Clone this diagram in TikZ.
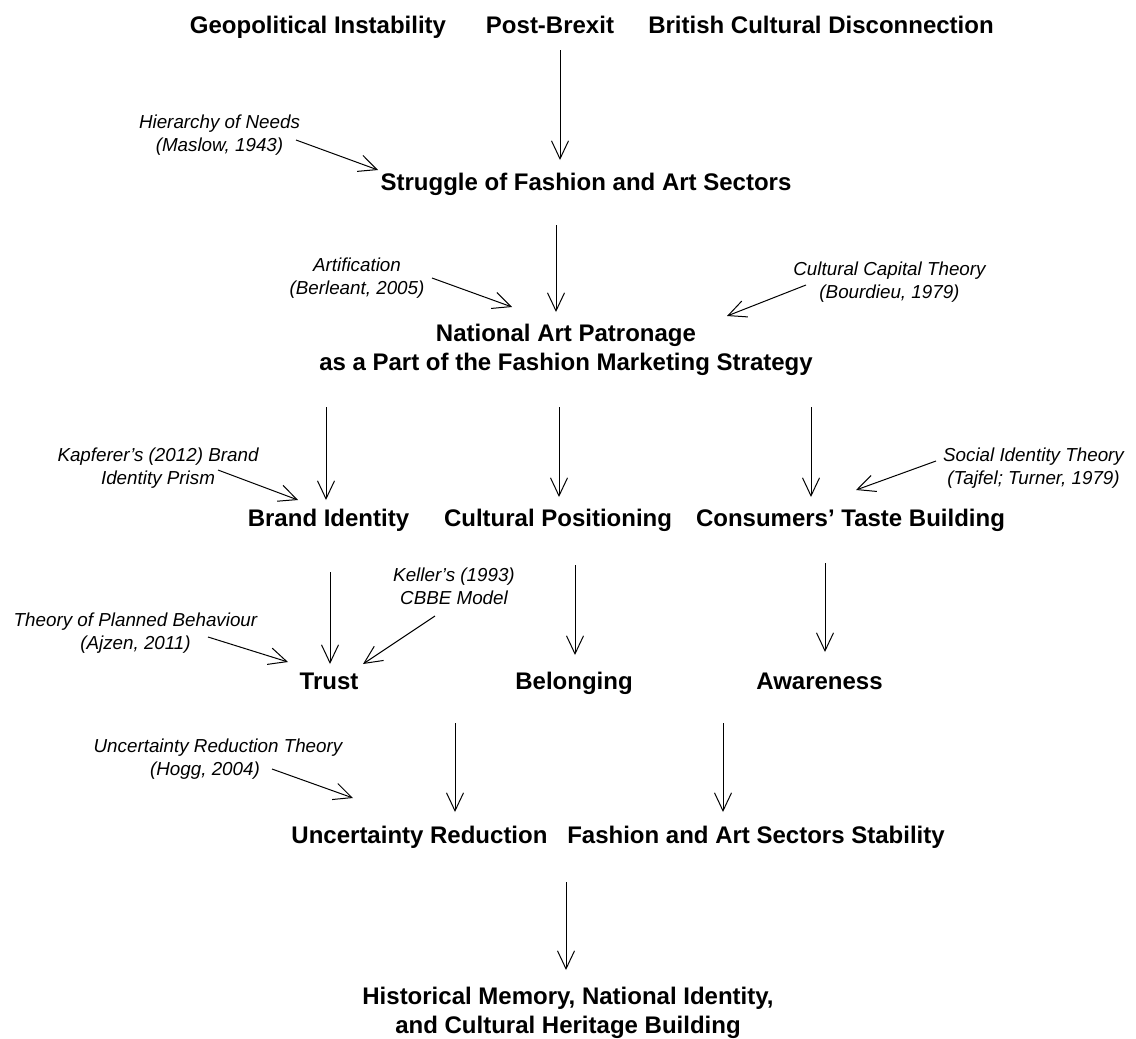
\documentclass[tikz,border=0pt]{standalone}
\usepackage{fontspec}
\setmainfont{Liberation Sans}
\usetikzlibrary{arrows.meta}
\begin{document}
\begin{tikzpicture}[x=1pt,y=-1pt,
  concept/.style={inner sep=0pt,anchor=base,font=\fontsize{24}{29}\selectfont\bfseries},
  concepttwo/.style={inner sep=0pt,align=center,font=\fontsize{24}{29}\selectfont\bfseries},
  theory/.style={inner sep=0pt,align=center,font=\fontsize{18.8}{23}\selectfont\itshape},
  flow/.style={line width=1pt,-{Straight Barb[length=18pt,width=17pt,line width=1pt]}}]
\useasboundingbox[fill=white] (0,0) rectangle (1136,1039);

% concepts (single lines placed on their baselines)
\node[concept] (geo) at (318,33.5) {Geopolitical Instability};
\node[concept] (brexit) at (550,33.5) {Post-Brexit};
\node[concept] (brit) at (821,33.5) {British Cultural Disconnection};
\node[concept] (struggle) at (586,190.5) {Struggle of Fashion and Art Sectors};
\node[concepttwo] (patron) at (566,350) {National Art Patronage\\as a Part of the Fashion Marketing Strategy};
\node[concept] (brand) at (328.5,526.5) {Brand Identity};
\node[concept] (cultpos) at (558,526.5) {Cultural Positioning};
\node[concept] (taste) at (850.5,526.5) {Consumers’ Taste Building};
\node[concept] (trust) at (329,689.5) {Trust};
\node[concept] (belong) at (574,689.5) {Belonging};
\node[concept] (aware) at (819.5,689.5) {Awareness};
\node[concept] (uncert) at (419.5,843.5) {Uncertainty Reduction};
\node[concept] (stab) at (756,843.5) {Fashion and Art Sectors Stability};
\node[concepttwo] (hist) at (568,1012.5) {Historical Memory, National Identity,\\and Cultural Heritage Building};

% theories
\node[theory] (maslow) at (219.5,135) {Hierarchy of Needs\\(Maslow, 1943)};
\node[theory] (berleant) at (357,278) {Artification\\(Berleant, 2005)};
\node[theory] (bourdieu) at (889.5,282) {Cultural Capital Theory\\(Bourdieu, 1979)};
\node[theory] (kapferer) at (158,468) {Kapferer’s (2012) Brand\\Identity Prism};
\node[theory] (tajfel) at (1033.5,468) {Social Identity Theory\\(Tajfel; Turner, 1979)};
\node[theory] (keller) at (454,586) {Keller’s (1993)\\CBBE Model};
\node[theory] (ajzen) at (135.5,633) {Theory of Planned Behaviour\\(Ajzen, 2011)};
\node[theory] (hogg) at (218,759) {Uncertainty Reduction Theory\\(Hogg, 2004)\hspace*{26pt}};

% arrow end points
\coordinate (a1s) at (560,50);   \coordinate (a1e) at (560,160);
\coordinate (a2s) at (556,225);  \coordinate (a2e) at (556,312);
\coordinate (a3s) at (326,407);  \coordinate (a3e) at (326,500);
\coordinate (a4s) at (559,407);  \coordinate (a4e) at (559,497);
\coordinate (a5s) at (811,407);  \coordinate (a5e) at (811,497);
\coordinate (a6s) at (330,572);  \coordinate (a6e) at (330,664);
\coordinate (a7s) at (575,565);  \coordinate (a7e) at (575,655);
\coordinate (a8s) at (825,563);  \coordinate (a8e) at (825,652);
\coordinate (a9s) at (455,723);  \coordinate (a9e) at (455,812);
\coordinate (a10s) at (723,723); \coordinate (a10e) at (723,812);
\coordinate (a11s) at (566,882); \coordinate (a11e) at (566,970);

\coordinate (t1s) at (296,140);  \coordinate (t1e) at (378,170);
\coordinate (t2s) at (432,278);  \coordinate (t2e) at (512,307);
\coordinate (t3s) at (806,285);  \coordinate (t3e) at (727,316);
\coordinate (t4s) at (218,470);  \coordinate (t4e) at (298,500);
\coordinate (t5s) at (936,461);  \coordinate (t5e) at (856,490);
\coordinate (t6s) at (435,616);  \coordinate (t6e) at (363,664);
\coordinate (t7s) at (208,637);  \coordinate (t7e) at (288,662);
\coordinate (t8s) at (272,769);  \coordinate (t8e) at (353,798);

% main flow
\foreach \i in {1,...,11} \draw[flow] (a\i s) -- (a\i e);
% theory influences
\foreach \i in {1,...,8} \draw[flow] (t\i s) -- (t\i e);
\end{tikzpicture}
\end{document}
